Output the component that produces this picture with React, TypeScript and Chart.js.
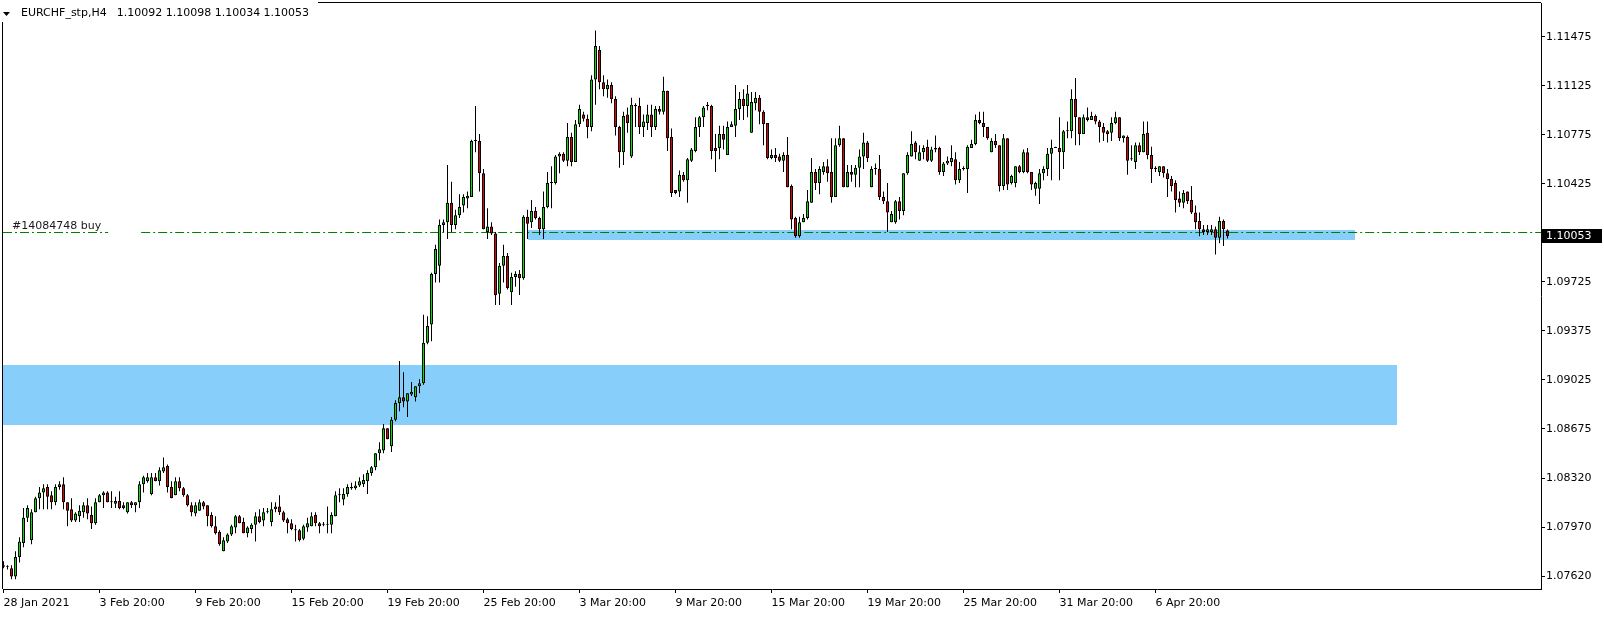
import React, { useEffect, useRef } from 'react';
import { Chart, registerables } from 'chart.js';

Chart.register(...registerables);

const SYMBOL = 'EURCHF_stp,H4';
const HEADER_OHLC = '1.10092 1.10098 1.10034 1.10053';
const ORDER_LABEL = '#14084748 buy';
const ORDER_PRICE = 1.10081;
const BID_PRICE = 1.10053;

const opens = [
  1.0770,1.0769,1.0768,1.0762,1.0776,1.0786,1.0804,1.0788,1.0808,1.0818,
  1.0822,1.0826,1.0820,1.0815,1.0826,1.0828,1.0815,1.0810,1.0802,1.0805,
  1.0808,1.0813,1.0806,1.0800,1.0815,1.0820,1.0822,1.0815,1.0814,1.0816,
  1.0813,1.0808,1.0815,1.0813,1.0815,1.0828,1.0830,1.0821,1.0833,1.0830,
  1.0837,1.0841,1.0826,1.0820,1.0830,1.0825,1.0820,1.0813,1.0807,1.0809,
  1.0815,1.0813,1.0806,1.0798,1.0794,1.0780,1.0787,1.0792,1.0797,1.0805,
  1.0801,1.0793,1.0796,1.0799,1.0805,1.0802,1.0808,1.0801,1.0810,1.0812,
  1.0808,1.0803,1.0800,1.0795,1.0795,1.0789,1.0797,1.0798,1.0806,1.0800,
  1.0799,1.0799,1.0799,1.0805,1.0820,1.0817,1.0821,1.0825,1.0825,1.0827,
  1.0828,1.0830,1.0836,1.0840,1.0850,1.0852,1.0868,1.0855,1.0874,1.0886,
  1.0890,1.0887,1.0892,1.0890,1.0898,1.0900,1.0929,1.0942,1.0978,1.0984,
  1.1013,1.1015,1.1029,1.1013,1.1020,1.1027,1.1032,1.1033,1.1073,1.1073,
  1.1050,1.1008,1.1012,1.1007,1.0964,1.0984,1.0991,1.0965,1.0976,1.0978,
  1.0975,1.1019,1.1015,1.1023,1.1018,1.1010,1.1026,1.1043,1.1043,1.1062,
  1.1064,1.1059,1.1076,1.1058,1.1085,1.1092,1.1089,1.1083,1.1117,1.1138,
  1.1115,1.1110,1.1113,1.1103,1.1083,1.1065,1.1092,1.1062,1.1098,1.1098,
  1.1083,1.1086,1.1092,1.1083,1.1096,1.1094,1.1109,1.1076,1.1038,1.1037,
  1.1049,1.1045,1.1059,1.1066,1.1083,1.1090,1.1098,1.1098,1.1068,1.1068,
  1.1078,1.1063,1.1083,1.1084,1.1096,1.1103,1.1098,1.1079,1.1100,1.1104,
  1.1094,1.1086,1.1061,1.1063,1.1062,1.1059,1.1063,1.1041,1.1018,1.1005,
  1.1015,1.1018,1.1029,1.1051,1.1043,1.1051,1.1055,1.1051,1.1033,1.1070,
  1.1075,1.1040,1.1051,1.1049,1.1054,1.1062,1.1072,1.1040,1.1053,1.1053,
  1.1033,1.1030,1.1015,1.1015,1.1030,1.1023,1.1050,1.1062,1.1072,1.1059,
  1.1065,1.1069,1.1059,1.1067,1.1068,1.1051,1.1057,1.1058,1.1060,1.1045,
  1.1053,1.1053,1.1068,1.1071,1.1088,1.1086,1.1083,1.1065,1.1073,1.1070,
  1.1041,1.1075,1.1043,1.1043,1.1055,1.1051,1.1065,1.1051,1.1039,1.1039,
  1.1050,1.1053,1.1064,1.1068,1.1068,1.1065,1.1080,1.1080,1.1103,1.1090,
  1.1078,1.1090,1.1088,1.1091,1.1087,1.1083,1.1080,1.1079,1.1086,1.1090,
  1.1075,1.1076,1.1060,1.1058,1.1070,1.1065,1.1079,1.1063,1.1054,1.1051,
  1.1055,1.1050,1.1046,1.1043,1.1032,1.1029,1.1037,1.1031,1.1022,1.1016,
  1.1010,1.1008,1.1008,1.1010,1.1004,1.1016,1.10092,
];

const highs = [
  1.0773,1.0770,1.0770,1.0780,1.0790,1.0811,1.0813,1.0810,1.0819,1.0826,
  1.0828,1.0828,1.0823,1.0828,1.0830,1.0833,1.0815,1.0818,1.0808,1.0813,
  1.0815,1.0818,1.0812,1.0818,1.0821,1.0823,1.0823,1.0823,1.0819,1.0823,
  1.0815,1.0815,1.0816,1.0815,1.0830,1.0834,1.0836,1.0836,1.0836,1.0840,
  1.0847,1.0842,1.0830,1.0833,1.0833,1.0826,1.0821,1.0815,1.0815,1.0817,
  1.0816,1.0813,1.0808,1.0805,1.0795,1.0790,1.0793,1.0799,1.0806,1.0806,
  1.0804,1.0798,1.0800,1.0808,1.0810,1.0811,1.0811,1.0815,1.0815,1.0820,
  1.0809,1.0804,1.0803,1.0799,1.0796,1.0799,1.0804,1.0808,1.0808,1.0801,
  1.0801,1.0812,1.0808,1.0823,1.0825,1.0825,1.0828,1.0829,1.0830,1.0833,
  1.0835,1.0838,1.0841,1.0850,1.0858,1.0871,1.0868,1.0876,1.0888,1.0916,
  1.0908,1.0893,1.0901,1.0898,1.0903,1.0949,1.0948,1.0979,1.0999,1.1017,
  1.1017,1.1056,1.1044,1.1024,1.1035,1.1035,1.1037,1.1074,1.1098,1.1078,
  1.1053,1.1025,1.1015,1.1008,1.0986,1.0999,1.0993,1.0979,1.0980,1.0981,
  1.1020,1.1024,1.1031,1.1026,1.1019,1.1037,1.1051,1.1055,1.1063,1.1065,
  1.1065,1.1086,1.1079,1.1088,1.1099,1.1094,1.1092,1.1120,1.1152,1.1141,
  1.1120,1.1117,1.1115,1.1105,1.1084,1.1094,1.1097,1.1104,1.1100,1.1104,
  1.1092,1.1099,1.1099,1.1098,1.1098,1.1119,1.1109,1.1082,1.1038,1.1052,
  1.1051,1.1061,1.1068,1.1090,1.1091,1.1098,1.1101,1.1099,1.1078,1.1084,
  1.1084,1.1087,1.1087,1.1113,1.1108,1.1110,1.1113,1.1108,1.1108,1.1106,
  1.1095,1.1086,1.1067,1.1068,1.1064,1.1065,1.1076,1.1042,1.1019,1.1019,
  1.1021,1.1038,1.1061,1.1053,1.1055,1.1058,1.1060,1.1075,1.1075,1.1084,
  1.1075,1.1056,1.1056,1.1056,1.1067,1.1079,1.1073,1.1055,1.1057,1.1063,
  1.1037,1.1043,1.1023,1.1031,1.1033,1.1050,1.1065,1.1080,1.1073,1.1070,
  1.1070,1.1074,1.1069,1.1077,1.1069,1.1058,1.1062,1.1070,1.1065,1.1058,
  1.1055,1.1070,1.1074,1.1092,1.1094,1.1094,1.1083,1.1075,1.1078,1.1070,
  1.1078,1.1075,1.1049,1.1055,1.1056,1.1067,1.1068,1.1051,1.1044,1.1053,
  1.1055,1.1068,1.1074,1.1069,1.1090,1.1081,1.1087,1.1110,1.1118,1.1090,
  1.1092,1.1097,1.1094,1.1092,1.1088,1.1086,1.1081,1.1090,1.1094,1.1090,
  1.1077,1.1077,1.1070,1.1072,1.1072,1.1087,1.1087,1.1069,1.1055,1.1055,
  1.1055,1.1053,1.1048,1.1045,1.1037,1.1038,1.1037,1.1041,1.1027,1.1022,
  1.1013,1.1013,1.1013,1.1012,1.1019,1.1017,1.10098,
];

const lows = [
  1.0768,1.0767,1.0760,1.0760,1.0772,1.0783,1.0801,1.0785,1.0808,1.0810,
  1.0810,1.0810,1.0810,1.0813,1.0824,1.0810,1.0798,1.0801,1.0801,1.0801,
  1.0804,1.0803,1.0796,1.0799,1.0815,1.0811,1.0815,1.0811,1.0811,1.0810,
  1.0810,1.0807,1.0811,1.0808,1.0811,1.0822,1.0829,1.0820,1.0830,1.0827,
  1.0836,1.0822,1.0818,1.0820,1.0823,1.0819,1.0812,1.0805,1.0805,1.0809,
  1.0810,1.0798,1.0797,1.0792,1.0784,1.0780,1.0786,1.0791,1.0793,1.0800,
  1.0793,1.0790,1.0793,1.0787,1.0800,1.0798,1.0807,1.0798,1.0808,1.0806,
  1.0801,1.0793,1.0795,1.0787,1.0787,1.0788,1.0794,1.0798,1.0798,1.0793,
  1.0798,1.0793,1.0793,1.0805,1.0815,1.0813,1.0819,1.0824,1.0824,1.0826,
  1.0826,1.0821,1.0834,1.0838,1.0845,1.0850,1.0860,1.0851,1.0873,1.0880,
  1.0883,1.0876,1.0891,1.0887,1.0893,1.0899,1.0928,1.0930,1.0972,1.0972,
  1.1008,1.1003,1.1008,1.1010,1.1018,1.1022,1.1025,1.1033,1.1065,1.1037,
  1.1010,1.1003,1.1006,1.0956,1.0956,1.0972,1.0967,1.0956,1.0969,1.0963,
  1.0974,1.1003,1.1011,1.1017,1.1006,1.1003,1.1025,1.1025,1.1042,1.1050,
  1.1058,1.1055,1.1055,1.1058,1.1083,1.1087,1.1075,1.1080,1.1099,1.1110,
  1.1105,1.1104,1.1100,1.1077,1.1054,1.1056,1.1079,1.1061,1.1083,1.1078,
  1.1076,1.1081,1.1076,1.1081,1.1092,1.1092,1.1066,1.1033,1.1035,1.1033,
  1.1044,1.1029,1.1058,1.1065,1.1076,1.1083,1.1095,1.1060,1.1051,1.1060,
  1.1067,1.1063,1.1083,1.1076,1.1088,1.1088,1.1090,1.1079,1.1095,1.1085,
  1.1070,1.1060,1.1060,1.1058,1.1058,1.1051,1.1040,1.1010,1.1004,1.1004,
  1.1015,1.1017,1.1029,1.1038,1.1035,1.1049,1.1044,1.1029,1.1033,1.1069,
  1.1040,1.1040,1.1044,1.1040,1.1040,1.1053,1.1058,1.1040,1.1049,1.1031,
  1.1028,1.1008,1.1015,1.1014,1.1017,1.1020,1.1049,1.1062,1.1060,1.1059,
  1.1060,1.1058,1.1058,1.1065,1.1049,1.1048,1.1056,1.1055,1.1042,1.1043,
  1.1052,1.1036,1.1068,1.1070,1.1085,1.1076,1.1074,1.1065,1.1068,1.1037,
  1.1038,1.1038,1.1042,1.1040,1.1050,1.1050,1.1050,1.1038,1.1034,1.1028,
  1.1045,1.1048,1.1045,1.1068,1.1045,1.1053,1.1075,1.1075,1.1070,1.1070,
  1.1078,1.1087,1.1088,1.1085,1.1072,1.1073,1.1072,1.1073,1.1085,1.1073,
  1.1072,1.1049,1.1059,1.1053,1.1063,1.1065,1.1060,1.1043,1.1051,1.1048,
  1.1047,1.1033,1.1037,1.1022,1.1026,1.1025,1.1028,1.1021,1.1010,1.1005,
  1.1006,1.1006,1.1006,1.0992,1.1000,1.0998,1.10034,
];

const closes = [
  1.0769,1.0769,1.0762,1.0776,1.0787,1.0804,1.0811,1.0808,1.0818,1.0822,
  1.0825,1.0819,1.0815,1.0826,1.0828,1.0815,1.0809,1.0802,1.0807,1.0809,
  1.0813,1.0807,1.0800,1.0815,1.0820,1.0822,1.0815,1.0815,1.0816,1.0811,
  1.0811,1.0815,1.0813,1.0815,1.0828,1.0833,1.0833,1.0833,1.0830,1.0838,
  1.0840,1.0826,1.0818,1.0830,1.0825,1.0820,1.0813,1.0808,1.0813,1.0815,
  1.0812,1.0805,1.0798,1.0793,1.0785,1.0788,1.0792,1.0798,1.0805,1.0800,
  1.0793,1.0797,1.0799,1.0805,1.0801,1.0808,1.0808,1.0810,1.0812,1.0808,
  1.0802,1.0800,1.0796,1.0795,1.0788,1.0798,1.0800,1.0805,1.0800,1.0798,
  1.0799,1.0799,1.0806,1.0820,1.0820,1.0821,1.0826,1.0826,1.0827,1.0830,
  1.0831,1.0836,1.0840,1.0850,1.0853,1.0868,1.0860,1.0874,1.0886,1.0890,
  1.0887,1.0893,1.0894,1.0898,1.0900,1.0929,1.0941,1.0978,1.0996,1.1013,
  1.1015,1.1029,1.1013,1.1020,1.1026,1.1033,1.1034,1.1073,1.1073,1.1050,
  1.1010,1.1012,1.1007,1.0963,1.0984,1.0991,1.0968,1.0976,1.0978,1.0975,
  1.1019,1.1014,1.1023,1.1018,1.1010,1.1026,1.1043,1.1043,1.1062,1.1064,
  1.1059,1.1076,1.1058,1.1085,1.1096,1.1089,1.1083,1.1117,1.1141,1.1115,
  1.1110,1.1113,1.1103,1.1083,1.1065,1.1091,1.1086,1.1099,1.1098,1.1083,
  1.1087,1.1092,1.1083,1.1096,1.1094,1.1109,1.1075,1.1036,1.1036,1.1049,
  1.1045,1.1060,1.1067,1.1083,1.1090,1.1097,1.1098,1.1066,1.1066,1.1078,
  1.1074,1.1083,1.1085,1.1096,1.1103,1.1098,1.1107,1.1101,1.1104,1.1094,
  1.1085,1.1061,1.1063,1.1061,1.1059,1.1063,1.1040,1.1017,1.1005,1.1015,
  1.1018,1.1030,1.1051,1.1043,1.1053,1.1055,1.1050,1.1033,1.1070,1.1075,
  1.1040,1.1051,1.1049,1.1054,1.1062,1.1072,1.1061,1.1053,1.1053,1.1033,
  1.1030,1.1022,1.1021,1.1030,1.1023,1.1050,1.1063,1.1071,1.1065,1.1065,
  1.1068,1.1059,1.1067,1.1068,1.1051,1.1057,1.1059,1.1061,1.1045,1.1053,
  1.1053,1.1069,1.1071,1.1088,1.1086,1.1083,1.1075,1.1073,1.1070,1.1041,
  1.1075,1.1042,1.1048,1.1055,1.1051,1.1065,1.1051,1.1042,1.1043,1.1050,
  1.1053,1.1064,1.1068,1.1068,1.1065,1.1080,1.1080,1.1103,1.1090,1.1078,
  1.1090,1.1088,1.1091,1.1087,1.1083,1.1079,1.1078,1.1086,1.1090,1.1075,
  1.1077,1.1059,1.1060,1.1070,1.1065,1.1078,1.1063,1.1053,1.1053,1.1055,
  1.1050,1.1046,1.1041,1.1031,1.1029,1.1036,1.1030,1.1022,1.1015,1.1010,
  1.1008,1.1010,1.1010,1.1004,1.1016,1.1010,1.10053,
];

// time axis: bar index of each labelled bar, and its label
const xTickIndex = [0, 24, 48, 72, 96, 120, 144, 168, 192, 216, 240, 264, 288];
const xTickLabels = [
  '28 Jan 2021', '3 Feb 20:00', '9 Feb 20:00', '15 Feb 20:00', '19 Feb 20:00',
  '25 Feb 20:00', '3 Mar 20:00', '9 Mar 20:00', '15 Mar 20:00', '19 Mar 20:00',
  '25 Mar 20:00', '31 Mar 20:00', '6 Apr 20:00',
];
const yTickValues = [
  1.11475, 1.11125, 1.10775, 1.10425, 1.09725, 1.09375, 1.09025, 1.08675, 1.0832, 1.0797, 1.0762,
];

// rectangle zones (bar index range, price range)
const zoneStart = [-2, 131];
const zoneEnd = [348.4, 337.9];
const zoneLow = [1.08702, 1.10024];
const zoneHigh = [1.09131, 1.10095];

const Y_MIN = 1.075309;
const Y_MAX = 1.117166;
const X_MIN = -0.125;
const X_MAX = 384.375;

const BULL = '#00e400';
const BEAR = '#e40000';
const ZONE = '#87cefa';
const ORDER = '#008000';
const FONT = '"DejaVu Sans", sans-serif';

const overlay = {
  id: 'mt4Overlay',
  beforeDatasetsDraw(chart: any) {
    const { ctx, chartArea: a, scales } = chart;
    const x = scales.x;
    const y = scales.y;
    ctx.save();
    ctx.beginPath();
    ctx.rect(a.left, a.top, a.right - a.left, a.bottom - a.top);
    ctx.clip();
    ctx.fillStyle = ZONE;
    for (let i = 0; i < zoneStart.length; i++) {
      const x0 = Math.round(x.getPixelForValue(zoneStart[i]));
      const x1 = Math.round(x.getPixelForValue(zoneEnd[i]));
      const y0 = Math.round(y.getPixelForValue(zoneHigh[i]));
      const y1 = Math.round(y.getPixelForValue(zoneLow[i]));
      ctx.fillRect(x0, y0, x1 - x0, y1 - y0);
    }
    // order line
    ctx.font = '11px ' + FONT;
    const labelEnd = 12 + ctx.measureText(ORDER_LABEL).width;
    const ly = Math.round(y.getPixelForValue(ORDER_PRICE)) + 0.5;
    ctx.strokeStyle = ORDER;
    ctx.lineWidth = 1;
    ctx.setLineDash([9, 3, 2, 3]);
    ctx.beginPath();
    ctx.moveTo(a.left, ly);
    ctx.lineTo(labelEnd + 7, ly);
    ctx.moveTo(labelEnd + 40, ly);
    ctx.lineTo(a.right, ly);
    ctx.stroke();
    ctx.setLineDash([]);
    ctx.fillStyle = '#1a1a1a';
    ctx.textBaseline = 'alphabetic';
    ctx.textAlign = 'left';
    ctx.fillText(ORDER_LABEL, 12, ly - 4);
    ctx.restore();
  },
  afterDraw(chart: any) {
    const { ctx, chartArea: a, scales } = chart;
    const y = scales.y;
    ctx.save();
    // frame (left and top)
    ctx.fillStyle = '#000';
    ctx.fillRect(a.left - 1, a.top - 1, 1, a.bottom - a.top + 1);
    ctx.fillRect(a.left - 1, a.top - 1, a.right - a.left + 1, 1);
    // header
    ctx.fillStyle = '#fff';
    ctx.fillRect(0, 0, 318, 22);
    ctx.fillStyle = '#000';
    ctx.beginPath();
    ctx.moveTo(3, 12);
    ctx.lineTo(10, 12);
    ctx.lineTo(6.5, 16);
    ctx.closePath();
    ctx.fill();
    ctx.font = '11px ' + FONT;
    ctx.textBaseline = 'middle';
    ctx.textAlign = 'left';
    ctx.fillText(SYMBOL, 21, 13.5);
    const w = ctx.measureText(SYMBOL).width;
    ctx.fillText(HEADER_OHLC, 21 + w + 10, 13.5);
    // bid price box on axis
    const by = Math.round(y.getPixelForValue(BID_PRICE));
    ctx.fillStyle = '#000';
    ctx.fillRect(a.right + 1, by - 7, 60, 14);
    ctx.fillStyle = '#fff';
    ctx.fillText(BID_PRICE.toFixed(5), a.right + 5, by + 0.5);
    ctx.restore();
  },
};

export default function App() {
  const ref = useRef<HTMLCanvasElement | null>(null);
  useEffect(() => {
    document.body.style.margin = '0';
    document.body.style.overflow = 'hidden';
    const canvas = ref.current;
    if (!canvas) return;
    Chart.defaults.font.family = FONT;
    Chart.defaults.font.size = 11;
    Chart.defaults.color = '#000';

    const wickData = highs.map((h, i) => ({ x: i, y: [lows[i], h] }));
    const bodyData = opens.map((o, i) => ({ x: i, y: [o, closes[i]] }));
    const bodyColors = opens.map((o, i) => (closes[i] > o ? BULL : closes[i] < o ? BEAR : '#000'));

    const chart = new Chart(canvas, {
      type: 'bar',
      data: {
        datasets: [
          {
            label: 'wicks',
            data: wickData as any,
            backgroundColor: '#000',
            borderWidth: 0,
            barThickness: 1,
            grouped: false,
            inflateAmount: 0,
            minBarLength: 1,
            order: 2,
          } as any,
          {
            label: 'bodies',
            data: bodyData as any,
            backgroundColor: bodyColors,
            borderColor: '#000',
            borderWidth: 1,
            borderSkipped: false,
            barThickness: 3,
            grouped: false,
            inflateAmount: 0,
            minBarLength: 1,
            order: 1,
          } as any,
        ],
      },
      options: {
        responsive: false,
        maintainAspectRatio: false,
        devicePixelRatio: 1,
        animation: false,
        events: [],
        layout: { padding: { left: 3, top: 3, right: 0, bottom: 0 } },
        plugins: { legend: { display: false }, tooltip: { enabled: false }, title: { display: false } },
        scales: {
          x: {
            type: 'linear',
            position: 'bottom',
            min: X_MIN,
            max: X_MAX,
            offset: false,
            grid: { display: true, drawOnChartArea: false, drawTicks: true, tickLength: 4, color: '#000', offset: false },
            border: { display: true, color: '#000', width: 1 },
            ticks: {
              autoSkip: false,
              maxRotation: 0,
              minRotation: 0,
              align: 'start',
              padding: 4,
              color: '#000',
              font: { family: FONT, size: 11 },
              callback: (_v: any, i: number) => xTickLabels[i],
            },
            afterBuildTicks: (s: any) => {
              s.ticks = xTickIndex.map((v) => ({ value: v }));
            },
            afterFit: (s: any) => {
              s.height = 29;
              s.paddingLeft = 0;
              s.paddingRight = 0;
            },
          } as any,
          y: {
            type: 'linear',
            position: 'right',
            min: Y_MIN,
            max: Y_MAX,
            beginAtZero: false,
            grid: { display: true, drawOnChartArea: false, drawTicks: true, tickLength: 4, color: '#000' },
            border: { display: true, color: '#000', width: 1 },
            ticks: {
              padding: 1,
              color: '#000',
              font: { family: FONT, size: 11 },
              callback: (v: any) => Number(v).toFixed(5),
            },
            afterBuildTicks: (s: any) => {
              s.ticks = yTickValues.map((v) => ({ value: v }));
            },
            afterFit: (s: any) => {
              s.width = 63;
              s.paddingTop = 0;
              s.paddingBottom = 0;
            },
          } as any,
        },
      },
      plugins: [overlay],
    });
    return () => chart.destroy();
  }, []);
  return (
    <canvas
      ref={ref}
      width={1604}
      height={618}
      style={{ display: 'block', width: '1604px', height: '618px' }}
    />
  );
}
